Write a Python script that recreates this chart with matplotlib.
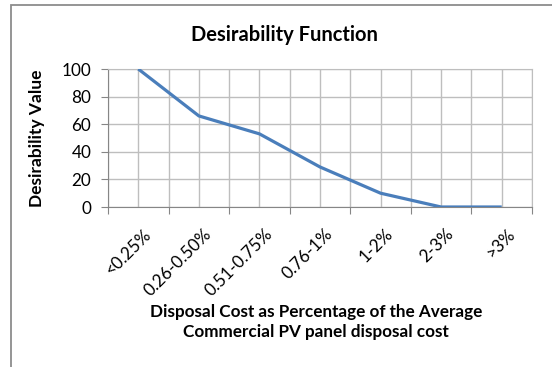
import matplotlib
matplotlib.use("Agg")
import matplotlib.pyplot as plt
from matplotlib.patches import Rectangle
from matplotlib.transforms import ScaledTranslation

# data
categories = ["<0.25%", "0.26-0.50%", "0.51-0.75%", "0.76-1%", "1-2%", "2-3%", ">3%"]
desirability = [100, 66, 53, 29, 10, 0, 0]
y_ticks = [0, 20, 40, 60, 80, 100]

plt.rcParams['font.family'] = ['Lato', 'DejaVu Sans']

fig = plt.figure(figsize=(5.52, 3.67), dpi=100)
ax = fig.add_axes([108/552, 1-207/367, 424/552, 138/367])

x = list(range(len(categories)))
ax.plot(x, desirability, color='#4A7EBB', linewidth=2.3, zorder=3, solid_capstyle='butt')

ax.set_xlim(-0.5, len(categories) - 0.5)
ax.set_ylim(0, 100)
ax.set_yticks(y_ticks)

# gridlines at category boundaries and centres, like the excel chart
for g in [i - 0.5 for i in range(len(categories) + 1)] + x:
    ax.axvline(g, color='#BEBEBE', linewidth=1, zorder=1)
for g in y_ticks:
    ax.axhline(g, color='#BEBEBE', linewidth=1, zorder=1)

ax.set_xticks([i - 0.5 for i in range(len(categories) + 1)])
ax.set_xticklabels([])
ax.tick_params(axis='x', length=5, color='#868686', direction='out')
ax.tick_params(axis='y', length=5, color='#868686', labelsize=12.3, pad=7)

# rotated category labels, anchored at their top right corner below each category
off = ScaledTranslation(0.045, -0.19, fig.dpi_scale_trans)
for i, cat in enumerate(categories):
    ax.text(i, 0, cat, transform=ax.get_xaxis_transform() + off, rotation=45,
            rotation_mode='anchor', ha='right', va='top', fontsize=12.3)

for side in ['top', 'right']:
    ax.spines[side].set_color('#BEBEBE')
for side in ['left', 'bottom']:
    ax.spines[side].set_color('#868686')

ax.set_ylabel('Desirability Value', fontsize=12.5, fontweight='bold')
ax.yaxis.set_label_coords((45 - 108) / 424, 0.5)

fig.text(316/552, 1-322/367,
         'Disposal Cost as Percentage of the Average\nCommercial PV panel disposal cost',
         fontsize=12.3, fontweight='bold', ha='center', va='center', linespacing=1.25)

fig.text(284/552, 1-35/367, 'Desirability Function', fontsize=14.5, fontweight='bold',
         ha='center', va='center')

# outer chart frame (only top and left visible in the crop)
fig.patches.append(Rectangle((11/552, -0.1), 1.2, 1-5/367+0.1, transform=fig.transFigure,
                             fill=False, edgecolor='#8C8C8C', linewidth=1.3))

fig.savefig('out.png', dpi=100)
